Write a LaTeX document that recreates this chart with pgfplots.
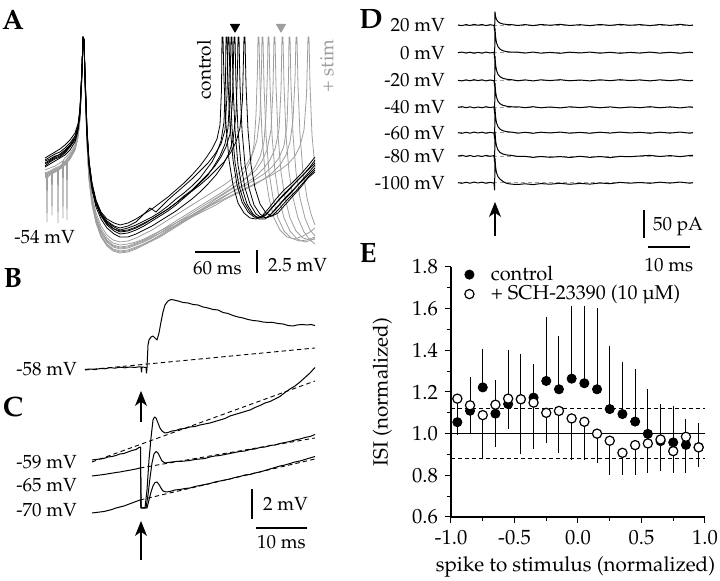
\documentclass[border=0pt]{standalone}
\usepackage[T1]{fontenc}
\usepackage{mathpazo}
\usepackage{pgfplots}
\pgfplotsset{compat=1.18}
\usetikzlibrary{arrows.meta}
\definecolor{tg}{gray}{0.62}
\newcommand\lbl{\fontsize{9.5}{11}\selectfont}
\newcommand\pl{\fontsize{14}{16}\selectfont\bfseries}
\pgfplotsset{dotleg/.style={legend image code/.code={\draw[##1] plot coordinates {(0.1cm,0cm)}; \path (0.4cm,0cm);}}}
\tikzset{arr/.style={black, line width=0.6pt, -{Stealth[length=7.5pt, width=6pt, inset=2.2pt]}}}
\begin{document}
\begin{tikzpicture}
\path[use as bounding box] (0,0) rectangle (360pt,290.5pt);
\begin{axis}[at={(0pt,0pt)}, anchor=south west, width=360pt, height=290.5pt, scale only axis,
  xmin=0, xmax=720, ymin=0, ymax=581, y dir=reverse, hide axis, clip=false,
  every axis plot/.append style={line join=round}]
% ---------- Panel A : gray (+ stim) traces ----------
\addplot[tg, line width=0.4pt] coordinates {(45,172)(46.5,176)(47,222)(47.5,178)(50,174)(55,170)(60,167)(65,162)(70,156)(75,147)(78,134)(80,116)(82,72)(83,37)(84,40)(85,80)(87,140)(89,175)(92,200)(96,218)(101,231)(107,240)(113,245)(120,247)(128,246)(136,243)(144,240)(152,236)(160,231)(168,226)(176,221)(184,216)(192,211)(200,206)(208,201)(216,196)(224,191)(232,185)(240,178)(246,170)(251,160)(254,145)(256,115)(257.5,70)(258,37)(259,37)(260,85)(262,135)(265,172)(269,198)(274,218)(280,230)(287,237)(295,239)(303,236)(310,232)(315,228)};
\addplot[tg, line width=0.4pt] coordinates {(45,175)(50,172)(55,169)(57.5,168)(58,223)(58.5,170)(60,168)(65,164)(70,158)(75,149)(78,136)(80,118)(82,74)(83,37)(84,41)(85,82)(87,143)(89,178)(92,203)(96,221)(101,235)(107,244)(113,249)(120,251)(128,250)(136,247)(144,244)(152,240)(160,235)(168,230)(176,225)(184,220)(192,215)(200,210)(208,205)(216,199)(224,194)(232,189)(240,183)(248,176)(255,167)(260,157)(264,142)(266,115)(267.5,70)(268,37)(269,37)(270,85)(272,135)(275,172)(279,198)(284,218)(290,231)(297,239)(305,242)(312,240)(315,238)};
\addplot[tg, line width=0.4pt] coordinates {(45,178)(50,175)(55,172)(60,169)(65,165)(66.5,163)(67,220)(67.5,162)(70,159)(75,150)(78,137)(80,119)(82,75)(83,37)(84,41)(85,83)(87,145)(89,180)(92,205)(96,223)(101,237)(107,246)(113,251)(120,253)(128,252)(136,249)(144,245)(152,241)(160,237)(168,232)(176,227)(184,222)(192,217)(200,212)(208,207)(216,202)(224,197)(232,192)(240,187)(248,182)(256,176)(264,168)(270,160)(275,149)(279,130)(281,90)(282,37)(283,37)(284,85)(286,135)(289,172)(293,198)(298,218)(304,232)(310,240)(315,244)};
\addplot[tg, line width=0.4pt] coordinates {(45,176)(50,173)(55,171)(60,168)(65,164)(70,158)(75,149)(78,136)(80,118)(82,74)(83,37)(84,40)(85,80)(87,141)(89,176)(92,201)(96,219)(101,232)(107,241)(113,246)(120,248)(128,247)(136,244)(144,241)(152,237)(160,233)(168,229)(176,225)(184,221)(192,217)(200,213)(208,209)(216,205)(224,200)(232,196)(240,192)(248,188)(256,184)(264,179)(272,173)(280,165)(286,155)(290,142)(293,120)(295,80)(296,37)(297,37)(298,85)(300,135)(303,172)(307,198)(311,214)(315,225)};
\addplot[tg, line width=0.4pt] coordinates {(45,174)(50,172)(51.5,171)(52,215)(52.5,172)(55,170)(60,167)(65,163)(70,157)(75,148)(78,135)(80,117)(82,73)(83,37)(84,40)(85,79)(87,139)(89,173)(92,198)(96,216)(101,229)(107,238)(113,243)(120,245)(128,244)(136,242)(144,239)(152,235)(160,231)(168,227)(176,223)(184,219)(192,215)(200,211)(208,207)(216,203)(224,199)(232,195)(240,191)(248,187)(256,183)(264,179)(272,175)(280,170)(288,164)(295,156)(300,146)(304,130)(306.5,95)(308,37)(309,37)(310,85)(312,135)(315,168)};
\addplot[tg, line width=0.4pt] coordinates {(45,170)(50,168)(55,166)(60,163)(62.5,161)(63,218)(63.5,160)(65,158)(70,153)(75,145)(78,133)(80,115)(82,72)(83,37)(84,40)(85,79)(87,138)(89,172)(92,196)(96,213)(101,226)(107,235)(113,240)(120,242)(128,241)(136,238)(144,234)(152,230)(160,225)(168,220)(176,215)(184,210)(192,205)(200,200)(208,195)(216,190)(224,185)(232,179)(240,172)(247,164)(253,153)(257,140)(260,115)(261.5,70)(262,37)(263,37)(264,85)(266,135)(269,172)(273,198)(278,218)(284,231)(291,238)(299,241)(307,240)(315,237)};
\addplot[tg, line width=0.4pt] coordinates {(45,173)(50,171)(55,168)(60,166)(65,161)(70,155)(75,147)(78,134)(80,116)(82,72)(83,37)(84,40)(85,80)(87,140)(89,175)(92,200)(96,219)(101,233)(107,242)(113,247)(120,249)(128,248)(136,245)(144,242)(152,238)(160,233)(168,228)(176,223)(184,218)(192,213)(200,208)(208,203)(216,198)(224,193)(232,188)(240,183)(248,177)(256,170)(262,161)(267,150)(271,130)(273,90)(274,37)(275,37)(276,85)(278,135)(281,172)(285,198)(290,218)(296,231)(303,238)(310,240)(315,239)};
\addplot[tg, line width=0.4pt] coordinates {(45,177)(50,174)(55,172)(60,169)(65,165)(70,159)(75,150)(78,137)(80,118)(82,74)(83,37)(84,41)(85,82)(87,143)(89,178)(92,203)(96,222)(101,236)(107,245)(113,250)(120,252)(128,251)(136,248)(144,244)(152,240)(160,236)(168,231)(176,226)(184,221)(192,216)(200,211)(208,206)(216,201)(224,196)(232,192)(240,188)(248,184)(256,179)(264,174)(272,167)(279,158)(284,146)(287,125)(288.5,80)(289,37)(290,37)(291,85)(293,135)(296,172)(300,198)(305,218)(310,230)(315,236)};
% ---------- Panel A : black (control) traces ----------
\addplot[black, line width=0.4pt] coordinates {(45,163)(50,160)(55,157)(60,154)(65,150)(70,145)(75,137)(78,127)(80,112)(82,68)(83,37)(84,40)(85,75)(87,130)(89,162)(92,185)(96,203)(101,214)(107,222)(114,227)(120,230)(128,228)(136,225)(144,221)(152,217)(160,212)(168,206)(176,199)(184,193)(192,186)(200,178)(206,170)(212,162)(217,152)(221,141)(224,122)(225.5,80)(226,37)(227,37)(228,80)(230,125)(233,160)(237,185)(242,202)(248,212)(254,217)(260,218)(266,215)(272,208)(280,199)(288,191)(296,182)(304,174)(310,167)(315,160)};
\addplot[black, line width=0.4pt] coordinates {(45,166)(50,162)(55,159)(60,157)(65,153)(70,147)(75,140)(78,129)(80,113)(82,70)(83,37)(84,40)(85,78)(87,135)(89,165)(92,187)(96,204)(101,216)(107,225)(114,231)(120,234)(128,233)(136,230)(144,226)(152,221)(160,216)(168,211)(176,205)(184,198)(192,191)(200,183)(208,175)(214,166)(220,156)(225,144)(228,128)(230,90)(231,37)(232,37)(233,85)(235,130)(238,165)(242,188)(247,204)(253,214)(259,219)(265,219)(271,214)(278,206)(286,197)(294,189)(302,180)(309,172)(315,165)};
\addplot[black, line width=0.4pt] coordinates {(45,158)(50,155)(55,152)(60,149)(65,145)(70,140)(75,133)(78,124)(80,108)(82,68)(83,37)(84,39)(85,72)(87,128)(89,160)(92,183)(96,200)(101,212)(107,219)(114,223)(120,225)(128,223)(136,219)(144,214)(152,209)(160,203)(168,197)(176,190)(184,183)(192,175)(200,166)(206,158)(212,149)(217,139)(220,125)(221.5,90)(222,37)(223,37)(224,80)(226,125)(229,160)(233,185)(238,203)(244,213)(250,218)(256,219)(262,216)(269,208)(276,199)(284,190)(292,183)(300,175)(308,166)(315,157)};
\addplot[black, line width=0.4pt] coordinates {(45,167)(50,164)(55,161)(60,158)(65,155)(70,150)(75,142)(78,131)(80,115)(82,72)(83,37)(84,41)(85,80)(87,138)(89,168)(92,190)(96,207)(101,219)(107,228)(114,234)(120,237)(128,237)(136,234)(144,230)(152,226)(160,221)(168,216)(176,211)(184,205)(192,199)(200,192)(208,184)(216,175)(223,165)(229,153)(233,140)(236,115)(237.5,70)(238,37)(239,37)(240,85)(242,130)(245,165)(249,188)(254,205)(260,214)(266,218)(272,216)(279,209)(287,200)(295,192)(303,183)(310,175)(315,170)};
\addplot[black, line width=0.4pt] coordinates {(45,161)(50,159)(55,156)(60,155)(65,151)(70,146)(75,139)(78,128)(80,111)(82,69)(83,37)(84,40)(85,76)(87,132)(89,163)(92,185)(96,203)(101,215)(107,224)(114,229)(120,232)(128,231)(136,228)(144,224)(152,219)(160,214)(168,209)(176,203)(184,197)(192,191)(200,185)(208,178)(216,170)(224,162)(231,152)(236,142)(240,128)(242.5,100)(244,37)(245,37)(246,85)(248,130)(251,165)(255,188)(260,204)(266,213)(272,216)(278,213)(285,205)(293,196)(301,187)(308,178)(315,172)};
\addplot[black, line width=0.4pt] coordinates {(45,160)(50,157)(55,154)(60,152)(65,148)(70,143)(75,136)(78,126)(80,110)(82,69)(83,37)(84,40)(85,74)(87,130)(89,162)(92,184)(96,201)(101,213)(107,221)(114,226)(120,228)(128,226)(136,222)(144,214)(150,208)(156,212)(162,206)(168,200)(176,193)(184,186)(192,179)(200,171)(208,163)(215,154)(221,144)(225,130)(227,95)(228,37)(229,37)(230,82)(232,128)(235,162)(239,186)(244,202)(250,212)(256,217)(262,217)(268,212)(275,204)(283,195)(291,187)(299,179)(307,171)(315,163)};
\addplot[black, line width=0.4pt] coordinates {(45,164)(50,161)(55,158)(60,156)(65,152)(70,146)(75,139)(78,128)(80,112)(82,70)(83,37)(84,40)(85,77)(87,133)(89,164)(92,186)(96,204)(101,215)(107,223)(114,229)(120,231)(128,230)(136,227)(144,223)(152,219)(160,214)(168,209)(176,203)(184,196)(192,190)(200,182)(208,174)(215,166)(221,157)(226,147)(230,134)(232.5,100)(234,37)(235,37)(236,85)(238,130)(241,165)(245,188)(250,204)(256,214)(262,218)(268,217)(275,210)(283,201)(291,193)(299,184)(307,176)(315,168)};
% triangles
\addplot[only marks, mark=triangle*, mark size=2.6pt, mark options={rotate=180, fill=black, draw=black}] coordinates {(235,27)};
\addplot[only marks, mark=triangle*, mark size=2.6pt, mark options={rotate=180, fill=tg, draw=tg}] coordinates {(281,27)};
\node[font=\lbl, rotate=90] at (axis cs:204,70) {control};
\node[font=\lbl, rotate=90, text=tg] at (axis cs:327,66) {+ stim};
\node[font=\lbl, anchor=east] at (axis cs:82,237) {-54 mV};
% scale bars A
\addplot[black, line width=0.6pt] coordinates {(195,252)(240,252)};
\addplot[black, line width=0.6pt] coordinates {(257,250)(257,273)};
\node[font=\lbl] at (axis cs:217.5,268) {60 ms};
\node[font=\lbl, anchor=west] at (axis cs:261,265) {2.5 mV};
% ---------- Panel B ----------
\addplot[black, dash pattern=on 2.2pt off 1.6pt, line width=0.45pt] coordinates {(85,370)(315,348)};
\addplot[black, line width=0.5pt] coordinates {(85,369.5)(90,369)(95,369.6)(100,368.5)(105,368.8)(110,367.6)(115,368.2)(120,367.2)(125,367.8)(130,367)(135,367.5)(139,366.8)(141,367)(141.5,372)(142,367)(146,367.5)(146.5,373)(147,368)(148,345)(149,340)(151,337)(153,336)(155,338)(157,340)(159,333)(161,322)(163,312)(165,305)(168,301)(171,299.5)(174,300)(178,301)(183,302.5)(188,303)(193,304.5)(198,305)(203,307)(208,308)(213,309.5)(218,310)(223,312.5)(228,313.5)(233,315.5)(238,317)(243,318)(248,319.5)(253,320.5)(258,321)(263,322)(268,322.5)(273,322.5)(278,323.5)(283,324)(288,325.5)(293,326)(297,325)(302,324.5)(307,325)(311,324.5)(315,325.5)};
\node[font=\lbl, anchor=east] at (axis cs:84,369) {-58 mV};
\addplot[arr] coordinates {(141,422)(141,391)};
% ---------- Panel C ----------
\addplot[black, dash pattern=on 2.2pt off 1.6pt, line width=0.45pt] coordinates {(92,462)(315,381)};
\addplot[black, dash pattern=on 2.2pt off 1.6pt, line width=0.45pt] coordinates {(140,468)(315,438)};
\addplot[black, dash pattern=on 2.2pt off 1.6pt, line width=0.45pt] coordinates {(140,500)(315,459)};
\addplot[black, line width=0.5pt] coordinates {(92,460)(96,459.5)(100,459)(104,458.5)(108,457)(112,456.5)(116,455.5)(120,454)(124,453.5)(128,452)(132,450.5)(136,449.5)(139,447.5)(140.5,447)(141,508)(145,508)(147,490)(149,460)(151,438)(153,420)(154.5,417)(156,418)(158,423)(160,428)(162,431)(165,433)(168,432.5)(172,431)(176,430.5)(180,429)(185,428.5)(190,427)(195,426.5)(200,425)(205,424)(210,423)(215,421.5)(220,420)(225,418.5)(230,416)(235,414.5)(240,413)(245,411.5)(250,410)(255,407.5)(260,405.5)(265,403)(270,401.5)(275,399)(280,396.5)(285,392.5)(290,389)(295,386)(300,382)(305,377.5)(310,373)(315,367.5)};
\addplot[black, line width=0.5pt] coordinates {(92,476)(96,475.5)(100,475)(104,474.5)(108,473.8)(112,473.2)(116,472.5)(120,472)(124,471.2)(128,470.5)(132,469.8)(136,469)(140,468)(140.6,468)(141.2,508)(146,508)(148,495)(150,478)(152,463)(154,454)(156,451.5)(158,453)(160,457)(162,461)(165,463)(168,462.5)(172,462)(176,461.5)(180,461.5)(185,461)(190,460.5)(195,459.5)(200,459)(205,458.5)(210,457)(215,456)(220,455.5)(225,454.5)(230,453.5)(235,452.5)(240,451.5)(245,451)(250,449.5)(255,449)(260,447.5)(265,447)(270,445.5)(275,445)(280,443.5)(285,442.5)(290,441.5)(295,440)(300,439)(305,437.5)(310,436.5)(315,434.5)};
\addplot[black, line width=0.5pt] coordinates {(92,513)(96,512.5)(100,512)(104,511.5)(108,510.5)(112,509.5)(116,508)(120,507)(124,506)(128,504.5)(132,503)(136,501.5)(140,500)(140.6,500)(141.2,508)(147,508)(149,500)(151,492)(153,486)(155,482.5)(157,482)(159,484.5)(161,488)(163,491)(166,492)(170,491.5)(175,490)(180,489.5)(185,488.5)(190,488)(195,486.5)(200,485.5)(205,484.5)(210,483.5)(215,482)(220,481)(225,480)(230,479)(235,477.5)(240,476.5)(245,475)(250,474.5)(255,473)(260,472)(265,470.5)(270,469)(275,467.5)(280,466)(285,465)(290,463.5)(295,462)(300,461)(305,459.5)(310,458)(315,456.5)};
\node[font=\lbl, anchor=east] at (axis cs:84,462) {-59 mV};
\node[font=\lbl, anchor=east] at (axis cs:84,485) {-65 mV};
\node[font=\lbl, anchor=east] at (axis cs:84,510) {-70 mV};
\addplot[arr] coordinates {(141,560)(141,521)};
\addplot[black, line width=0.6pt] coordinates {(252,489)(252,519)};
\addplot[black, line width=0.6pt] coordinates {(256,528)(307,528)};
\node[font=\lbl, anchor=west] at (axis cs:256,504) {2 mV};
\node[font=\lbl] at (axis cs:281.5,542) {10 ms};
% ---------- Panel D ----------
\addplot[tg, dash pattern=on 2pt off 1.5pt, line width=0.4pt] coordinates {(458,25)(693,25)};
\addplot[tg, dash pattern=on 2pt off 1.5pt, line width=0.4pt] coordinates {(458,52.7)(693,52.7)};
\addplot[tg, dash pattern=on 2pt off 1.5pt, line width=0.4pt] coordinates {(458,80.3)(693,80.3)};
\addplot[tg, dash pattern=on 2pt off 1.5pt, line width=0.4pt] coordinates {(458,107.3)(693,107.3)};
\addplot[tg, dash pattern=on 2pt off 1.5pt, line width=0.4pt] coordinates {(458,132.7)(693,132.7)};
\addplot[tg, dash pattern=on 2pt off 1.5pt, line width=0.4pt] coordinates {(458,156)(693,156)};
\addplot[tg, dash pattern=on 2pt off 1.5pt, line width=0.4pt] coordinates {(458,182.7)(693,182.7)};
\addplot[black, line width=0.5pt] coordinates {(458,25)(462,25.6)(466,24.6)(470,25.5)(474,24.4)(478,25.3)(482,24.5)(486,25.6)(490,24.7)(494,25.4)(494.6,31)(495,12)(495.6,16.5)(496.5,19.5)(498,21.7)(500,23)(503,24)(507,24.5)(512,24.7)(518,25.5)(525,24.6)(533,25.6)(541,24.5)(550,25.3)(560,24.4)(570,25.5)(580,24.7)(590,25.6)(600,24.5)(610,25.4)(620,24.4)(630,25.3)(640,24.6)(650,25.6)(660,24.5)(670,25.4)(680,24.4)(690,25.5)(693,25)};
\addplot[black, line width=0.5pt] coordinates {(458,52.7)(462,52.1)(466,53.1)(470,52.2)(474,53.3)(478,52.4)(482,53.2)(486,52.1)(490,53.0)(494,52.3)(494.6,58.7)(495,28.7)(495.6,37.1)(496.5,42.7)(498,46.7)(500,49.1)(503,50.8)(507,51.7)(512,52.2)(518,52.2)(525,53.1)(533,52.1)(541,53.2)(550,52.4)(560,53.3)(570,52.2)(580,53.0)(590,52.1)(600,53.2)(610,52.3)(620,53.3)(630,52.4)(640,53.1)(650,52.1)(660,53.2)(670,52.3)(680,53.3)(690,52.2)(693,52.7)};
\addplot[black, line width=0.5pt] coordinates {(458,80.3)(462,80.9)(466,79.9)(470,80.8)(474,79.7)(478,80.6)(482,79.8)(486,80.9)(490,80.0)(494,80.7)(494.6,86.3)(495,56.3)(495.6,64.7)(496.5,70.3)(498,74.3)(500,76.7)(503,78.4)(507,79.3)(512,79.8)(518,80.8)(525,79.9)(533,80.9)(541,79.8)(550,80.6)(560,79.7)(570,80.8)(580,80.0)(590,80.9)(600,79.8)(610,80.7)(620,79.7)(630,80.6)(640,79.9)(650,80.9)(660,79.8)(670,80.7)(680,79.7)(690,80.8)(693,80.3)};
\addplot[black, line width=0.5pt] coordinates {(458,107.3)(462,106.7)(466,107.7)(470,106.8)(474,107.9)(478,107.0)(482,107.8)(486,106.7)(490,107.6)(494,106.9)(494.6,113.3)(495,83.3)(495.6,91.7)(496.5,97.3)(498,101.3)(500,103.7)(503,105.4)(507,106.3)(512,106.8)(518,106.8)(525,107.7)(533,106.7)(541,107.8)(550,107.0)(560,107.9)(570,106.8)(580,107.6)(590,106.7)(600,107.8)(610,106.9)(620,107.9)(630,107.0)(640,107.7)(650,106.7)(660,107.8)(670,106.9)(680,107.9)(690,106.8)(693,107.3)};
\addplot[black, line width=0.5pt] coordinates {(458,132.7)(462,133.3)(466,132.3)(470,133.2)(474,132.1)(478,133.0)(482,132.2)(486,133.3)(490,132.4)(494,133.1)(494.6,138.7)(495,108.7)(495.6,117.1)(496.5,122.7)(498,126.7)(500,129.1)(503,130.8)(507,131.7)(512,132.2)(518,133.2)(525,132.3)(533,133.3)(541,132.2)(550,133.0)(560,132.1)(570,133.2)(580,132.4)(590,133.3)(600,132.2)(610,133.1)(620,132.1)(630,133.0)(640,132.3)(650,133.3)(660,132.2)(670,133.1)(680,132.1)(690,133.2)(693,132.7)};
\addplot[black, line width=0.5pt] coordinates {(458,156)(462,155.4)(466,156.4)(470,155.5)(474,156.6)(478,155.7)(482,156.5)(486,155.4)(490,156.3)(494,155.6)(494.6,162)(495,132)(495.6,140.4)(496.5,146)(498,150)(500,152.4)(503,154.1)(507,155)(512,155.5)(518,156.5)(525,156.4)(533,157.4)(541,156.5)(550,157.3)(560,156.6)(570,157.5)(580,156.3)(590,157.4)(600,156.5)(610,157.6)(620,156.4)(630,156.7)(640,156.0)(650,155.4)(660,156.5)(670,155.6)(680,156.6)(690,155.5)(693,155.3)};
\addplot[black, line width=0.5pt] coordinates {(458,182.7)(462,183.3)(466,182.3)(470,183.2)(474,182.1)(478,183.0)(482,182.2)(486,183.3)(490,182.4)(494,183.1)(494.6,190)(495,158.7)(495.6,167.1)(496.5,172.7)(498,176.7)(500,179.1)(503,181.5)(507,183.5)(512,184.2)(518,184.5)(525,183.8)(533,184.6)(541,183.6)(550,184.2)(560,183.3)(570,184.3)(580,183.4)(590,184.1)(600,183.0)(610,183.7)(620,182.4)(630,183.2)(640,182.5)(650,183.3)(660,182.2)(670,183.1)(680,182.1)(690,183.2)(693,182.7)};
\node[font=\lbl, anchor=east] at (axis cs:452,25) {20 mV};
\node[font=\lbl, anchor=east] at (axis cs:452,52.7) {0 mV};
\node[font=\lbl, anchor=east] at (axis cs:452,80.3) {-20 mV};
\node[font=\lbl, anchor=east] at (axis cs:452,107.3) {-40 mV};
\node[font=\lbl, anchor=east] at (axis cs:452,132.7) {-60 mV};
\node[font=\lbl, anchor=east] at (axis cs:452,156) {-80 mV};
\node[font=\lbl, anchor=east] at (axis cs:452,182.7) {-100 mV};
\addplot[arr] coordinates {(495,236)(495,202)};
\addplot[black, line width=0.6pt] coordinates {(644,210)(644,238)};
\addplot[black, line width=0.6pt] coordinates {(648,247)(690,247)};
\node[font=\lbl, anchor=west] at (axis cs:646,227) {50 pA};
\node[font=\lbl] at (axis cs:669,265) {10 ms};
% ---------- panel letters ----------
\node[font=\pl] at (axis cs:13,19.5) {A};
\node[font=\pl] at (axis cs:13,278) {B};
\node[font=\pl] at (axis cs:13,407) {C};
\node[font=\pl] at (axis cs:371,19.5) {D};
\node[font=\pl] at (axis cs:368,253) {E};
\end{axis}
% ---------- Panel E ----------
\pgfplotstableread{
x y e
-0.95 1.055 0.095
-0.85 1.110 0.164
-0.75 1.222 0.185
-0.65 1.096 0.162
-0.55 1.142 0.260
-0.45 1.165 0.218
-0.35 1.173 0.160
-0.25 1.253 0.305
-0.15 1.213 0.258
-0.05 1.264 0.350
0.05 1.242 0.369
0.15 1.213 0.390
0.25 1.118 0.305
0.35 1.094 0.252
0.45 1.058 0.251
0.55 0.999 0.215
0.65 0.964 0.178
0.75 0.958 0.176
0.85 0.946 0.122
0.95 0.935 0.117
}\ctrl
\pgfplotstableread{
x y e
-0.95 1.168 0.175
-0.85 1.136 0.136
-0.75 1.089 0.210
-0.65 1.139 0.204
-0.55 1.168 0.148
-0.45 1.165 0.265
-0.35 1.149 0.225
-0.25 1.100 0.147
-0.15 1.109 0.201
-0.05 1.073 0.200
0.05 1.057 0.184
0.15 1.000 0.143
0.25 0.966 0.166
0.35 0.908 0.108
0.45 0.945 0.145
0.55 0.953 0.141
0.65 0.972 0.151
0.75 0.916 0.104
0.85 0.985 0.176
0.95 0.934 0.094
}\sch
\begin{axis}[at={(225.5pt,32pt)}, anchor=south west, scale only axis, width=127pt, height=125pt,
  xmin=-1, xmax=1, ymin=0.6, ymax=1.8, clip=false,
  axis lines=left, axis line style={-, line width=0.6pt},
  xtick={-1,-0.5,0,0.5,1}, minor x tick num=1,
  ytick={0.6,0.8,1.0,1.2,1.4,1.6,1.8}, minor y tick num=1,
  tick align=outside, major tick length=3pt, minor tick length=2pt,
  tick style={black, line width=0.5pt},
  /pgf/number format/assume math mode=true,
  xticklabel style={/pgf/number format/.cd, fixed, fixed zerofill, precision=1},
  yticklabel style={/pgf/number format/.cd, fixed, fixed zerofill, precision=1},
  ticklabel style={font=\fontsize{10.3}{12}\selectfont},
  xlabel={spike to stimulus (normalized)}, ylabel={ISI (normalized)},
  label style={font=\fontsize{10.3}{12}\selectfont},
  xlabel style={at={(axis description cs:0.49,-0.2)}, anchor=center},
  ylabel style={at={(axis description cs:-0.27,0.5)}, anchor=center},
  legend style={at={(axis description cs:0.045,1.03)}, anchor=north west, draw=none, fill=none,
    font=\fontsize{10}{11}\selectfont, row sep=-3pt, inner sep=1pt},
  legend cell align=left]
\addplot[black, line width=0.6pt, forget plot] coordinates {(-1,1)(1,1)};
\addplot[black, dash pattern=on 2pt off 1.5pt, line width=0.5pt, forget plot] coordinates {(-1,1.12)(1,1.12)};
\addplot[black, dash pattern=on 2pt off 1.5pt, line width=0.5pt, forget plot] coordinates {(-1,0.88)(1,0.88)};
\addplot[only marks, mark=none, forget plot, black, error bars/.cd, y dir=plus, y explicit, error mark=none, error bar style={line width=0.5pt, black}] table[x=x, y=y, y error=e] {\ctrl};
\addplot[only marks, mark=*, mark size=2.3pt, mark options={fill=black, draw=black}, dotleg] table[x=x, y=y] {\ctrl};
\addlegendentry{control}
\addplot[only marks, mark=none, forget plot, black, error bars/.cd, y dir=minus, y explicit, error mark=none, error bar style={line width=0.5pt, black}] table[x=x, y=y, y error=e] {\sch};
\addplot[only marks, mark=*, mark size=2.3pt, mark options={fill=white, draw=black, line width=0.6pt}, dotleg] table[x=x, y=y] {\sch};
\addlegendentry{+ SCH-23390 (10 \textmu M)}
\end{axis}
\end{tikzpicture}
\end{document}
